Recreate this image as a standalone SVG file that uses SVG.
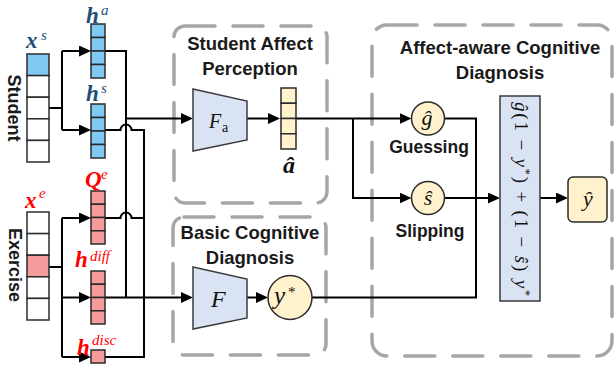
<svg xmlns="http://www.w3.org/2000/svg" width="614" height="367" viewBox="0 0 614 367">
  <style>
    .bg { fill: #ffffff; }
    .grp { fill: none; stroke: #a6a6a6; stroke-width: 3.5; stroke-dasharray: 30 18; stroke-linecap: round; }
    .cell { stroke: #2b2b2b; stroke-width: 1.5; }
    .stu { fill: #80c9f2; }
    .exe { fill: #f59b9b; }
    .emp { fill: #ffffff; }
    .aff { fill: #fff2cc; }
    .op { fill: #dae3f3; stroke: #3a3a3a; stroke-width: 1.5; }
    .val { fill: #fff2cc; stroke: #2b2b2b; stroke-width: 1.5; }
    .wire { fill: none; stroke: #000000; stroke-width: 2; }
    .arr { fill: none; stroke: #000000; stroke-width: 2; marker-end: url(#head); }
    .ttl { font-family: "Liberation Sans", Arial, sans-serif; font-weight: bold; font-size: 18.5px; fill: #1a1a1a; text-anchor: middle; }
    .lbl { font-family: "Liberation Sans", Arial, sans-serif; font-weight: bold; font-size: 17.5px; fill: #1a1a1a; text-anchor: middle; }
    .side { font-family: "Liberation Sans", Arial, sans-serif; font-weight: bold; font-size: 18px; fill: #1a1a1a; text-anchor: middle; }
    .vb { font-family: "Liberation Serif", "Times New Roman", serif; font-weight: bold; font-style: italic; font-size: 23px; }
    .vs { font-family: "Liberation Serif", "Times New Roman", serif; font-style: italic; font-size: 15px; }
    .blue { fill: #1f4e79; }
    .red { fill: #ff0000; }
    .m { font-family: "Liberation Serif", "Times New Roman", serif; fill: #111111; }
    .it { font-style: italic; }
  </style>
  <defs>
    <marker id="head" viewBox="0 0 12 11" refX="6" refY="5.5" markerWidth="12" markerHeight="11" markerUnits="userSpaceOnUse" orient="auto">
      <path d="M0,0 L12,5.5 L0,11 Z" fill="#000000"/>
    </marker>
  </defs>

  <rect class="bg" x="0" y="0" width="614" height="367"/>

  <!-- dashed module frames -->
  <g id="frames">
    <rect class="grp" x="174" y="26" width="153" height="177" rx="11"/>
    <rect class="grp" x="173" y="217" width="153" height="138" rx="11"/>
    <rect class="grp" x="372" y="25" width="240" height="331" rx="15"/>
    <text class="ttl" x="250" y="50">Student Affect</text>
    <text class="ttl" x="250" y="75">Perception</text>
    <text class="ttl" x="250" y="239">Basic Cognitive</text>
    <text class="ttl" x="250" y="264">Diagnosis</text>
    <text class="ttl" x="500" y="54">Affect-aware Cognitive</text>
    <text class="ttl" x="500" y="78.5">Diagnosis</text>
  </g>

  <!-- connectors -->
  <g id="connectors">
    <!-- student one-hot to embeddings -->
    <path class="wire" d="M49,108 H62 M62,51 V130"/>
    <path class="arr" d="M62,51 H85"/>
    <path class="arr" d="M62,130 H85"/>
    <!-- exercise one-hot to embeddings -->
    <path class="wire" d="M49,267 H62 M62,218 V357"/>
    <path class="arr" d="M62,218 H85"/>
    <path class="arr" d="M62,297.5 H85"/>
    <path class="arr" d="M62,357 H85"/>
    <!-- h^a trunk and branch into F_a -->
    <path class="wire" d="M105,51 H126 V297.5"/>
    <path class="arr" d="M126,118.5 H187"/>
    <!-- h^s, Q^e, h^disc bus (with hops over the h^a trunk) -->
    <path class="wire" d="M105,130 H120.5 A5.5,5.5 0 0 1 131.5,130 H144 V357 H105"/>
    <path class="wire" d="M105,218 H120.5 A5.5,5.5 0 0 1 131.5,218 H144"/>
    <!-- h^diff into F -->
    <path class="arr" d="M105,297.5 H187"/>
    <!-- F_a to affect vector -->
    <path class="arr" d="M247,118.5 H274"/>
    <!-- affect vector to guessing / slipping -->
    <path class="arr" d="M296,118.5 H405.5"/>
    <path class="arr" d="M353,118.5 V198 H405.5"/>
    <!-- F to y* -->
    <path class="arr" d="M247,297.5 H262"/>
    <!-- merge into the combination box -->
    <path class="wire" d="M444,118.5 H476 V297.5 H312"/>
    <path class="arr" d="M444,198 H494"/>
    <path class="arr" d="M540,198 H562"/>
  </g>

  <!-- student one-hot vector -->
  <g id="student-onehot">
    <rect class="cell stu" x="27" y="54" width="22" height="21.6"/>
    <rect class="cell emp" x="27" y="75.6" width="22" height="21.6"/>
    <rect class="cell emp" x="27" y="97.2" width="22" height="21.6"/>
    <rect class="cell emp" x="27" y="118.8" width="22" height="21.6"/>
    <rect class="cell emp" x="27" y="140.4" width="22" height="21.6"/>
    <text class="vb blue" x="26" y="48">x</text>
    <text class="vs blue" x="41" y="40">s</text>
    <text class="side" transform="translate(14,108) rotate(90)" x="0" y="6.5">Student</text>
  </g>

  <!-- exercise one-hot vector -->
  <g id="exercise-onehot">
    <rect class="cell emp" x="27" y="212" width="22" height="21.6"/>
    <rect class="cell emp" x="27" y="233.6" width="22" height="21.6"/>
    <rect class="cell exe" x="27" y="255.2" width="22" height="21.6"/>
    <rect class="cell emp" x="27" y="276.8" width="22" height="21.6"/>
    <rect class="cell emp" x="27" y="298.4" width="22" height="21.6"/>
    <text class="vb red" x="25" y="208">x</text>
    <text class="vs red" x="39" y="198">e</text>
    <text class="side" transform="translate(15,265) rotate(90)" x="0" y="6.5">Exercise</text>
  </g>

  <!-- h^a -->
  <g id="h-a">
    <rect class="cell stu" x="91" y="24" width="14" height="13.5"/>
    <rect class="cell stu" x="91" y="37.5" width="14" height="13.5"/>
    <rect class="cell stu" x="91" y="51" width="14" height="13.5"/>
    <rect class="cell stu" x="91" y="64.5" width="14" height="13.5"/>
    <text class="vb blue" x="86" y="23">h</text>
    <text class="vs blue" x="101" y="15">a</text>
  </g>

  <!-- h^s -->
  <g id="h-s">
    <rect class="cell stu" x="91" y="104" width="14" height="13.5"/>
    <rect class="cell stu" x="91" y="117.5" width="14" height="13.5"/>
    <rect class="cell stu" x="91" y="131" width="14" height="13.5"/>
    <rect class="cell stu" x="91" y="144.5" width="14" height="13.5"/>
    <text class="vb blue" x="86" y="101">h</text>
    <text class="vs blue" x="101" y="93">s</text>
  </g>

  <!-- Q^e -->
  <g id="q-e">
    <rect class="cell exe" x="91" y="191" width="14" height="13.25"/>
    <rect class="cell exe" x="91" y="204.25" width="14" height="13.25"/>
    <rect class="cell exe" x="91" y="217.5" width="14" height="13.25"/>
    <rect class="cell exe" x="91" y="230.75" width="14" height="13.25"/>
    <text class="vb red" x="85" y="187">Q</text>
    <text class="vs red" x="101" y="179">e</text>
  </g>

  <!-- h^diff -->
  <g id="h-diff">
    <rect class="cell exe" x="91" y="271" width="14" height="13.25"/>
    <rect class="cell exe" x="91" y="284.25" width="14" height="13.25"/>
    <rect class="cell exe" x="91" y="297.5" width="14" height="13.25"/>
    <rect class="cell exe" x="91" y="310.75" width="14" height="13.25"/>
    <text class="vb red" x="75" y="267">h</text>
    <text class="vs red" x="90" y="261">diff</text>
  </g>

  <!-- h^disc -->
  <g id="h-disc">
    <rect class="cell exe" x="91" y="350" width="14" height="13"/>
    <text class="vb red" x="77" y="355">h</text>
    <text class="vs red" x="92" y="345">disc</text>
  </g>

  <!-- F_a -->
  <g id="f-a">
    <polygon class="op" points="193,89 247,101 247,140 193,151"/>
    <text class="m it" x="209" y="128" font-size="20">F</text>
    <text class="m" x="222" y="132" font-size="14">a</text>
  </g>

  <!-- affect vector a-hat -->
  <g id="a-hat">
    <rect class="cell aff" x="281" y="88" width="15" height="15.25"/>
    <rect class="cell aff" x="281" y="103.25" width="15" height="15.25"/>
    <rect class="cell aff" x="281" y="118.5" width="15" height="15.25"/>
    <rect class="cell aff" x="281" y="133.75" width="15" height="15.25"/>
    <text class="m" x="289" y="173" font-size="24" font-weight="bold" font-style="italic" text-anchor="middle">â</text>
  </g>

  <!-- F -->
  <g id="f">
    <polygon class="op" points="193,267 247,279 247,318 193,329"/>
    <text class="m it" x="211" y="307" font-size="24">F</text>
  </g>

  <!-- y* -->
  <g id="y-star">
    <circle class="val" cx="290" cy="297.5" r="22"/>
    <text class="m it" x="274" y="304" font-size="25">y</text>
    <text class="m" x="288" y="297" font-size="15">*</text>
  </g>

  <!-- guessing -->
  <g id="guess">
    <circle class="val" cx="428" cy="118.5" r="16.5"/>
    <text class="m it" x="427" y="125" font-size="22" text-anchor="middle">ĝ</text>
    <text class="lbl" x="429" y="152.5">Guessing</text>
  </g>

  <!-- slipping -->
  <g id="slip">
    <circle class="val" cx="428" cy="198" r="16.5"/>
    <text class="m it" x="428" y="205" font-size="22" text-anchor="middle">ŝ</text>
    <text class="lbl" x="430" y="236.5">Slipping</text>
  </g>

  <!-- combination box -->
  <g id="combine">
    <rect class="op" x="500" y="96" width="40" height="205"/>
    <text class="m" transform="translate(520,199) rotate(90)" x="0" y="5.5" font-size="19" text-anchor="middle" textLength="194" lengthAdjust="spacing"><tspan class="it">ĝ</tspan>(1 − <tspan class="it">y</tspan><tspan font-size="12" dy="-7">*</tspan><tspan dy="7">) + (1 − </tspan><tspan class="it">ŝ</tspan>) <tspan class="it">y</tspan><tspan font-size="12" dy="-7">*</tspan></text>
  </g>

  <!-- prediction -->
  <g id="y-hat">
    <rect class="val" x="568" y="177" width="39" height="45" rx="5"/>
    <text class="m it" x="588" y="206" font-size="22" text-anchor="middle">ŷ</text>
  </g>
</svg>
